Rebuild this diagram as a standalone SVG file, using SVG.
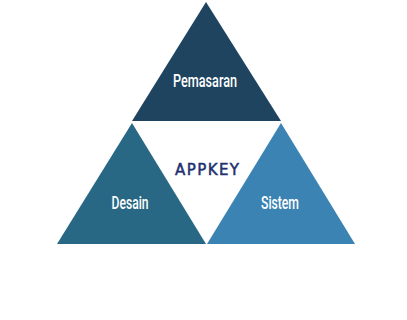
<svg xmlns="http://www.w3.org/2000/svg" width="407" height="320" viewBox="0 0 407 320">
<style>
.lbl{font-family:Roboto,"DejaVu Sans Condensed",sans-serif;font-weight:500;fill:#ffffff;text-anchor:middle;font-size:18px}
.key{font-family:"DejaVu Sans","Liberation Sans",sans-serif;fill:#22316e;stroke:#22316e;stroke-width:0.5;text-anchor:middle;font-size:15px}
</style>
<rect width="407" height="320" fill="#ffffff"/>
<g id="pemasaran">
<polygon points="206,2 281,121 132,121" fill="#1e4460"/>
<text class="lbl" x="205" y="87" textLength="64" lengthAdjust="spacingAndGlyphs">Pemasaran</text>
</g>
<g id="desain">
<polygon points="132,123 206,244 57,244" fill="#286884"/>
<text class="lbl" x="130" y="209" textLength="37" lengthAdjust="spacingAndGlyphs">Desain</text>
</g>
<g id="sistem">
<polygon points="281,123 355,244 207,244" fill="#3a83b3"/>
<text class="lbl" x="280" y="209" textLength="38" lengthAdjust="spacingAndGlyphs">Sistem</text>
</g>
<g id="appkey">
<text class="key" x="207" y="175" textLength="64" lengthAdjust="spacing">APPKEY</text>
</g>
<g id="connectors"/>
</svg>
